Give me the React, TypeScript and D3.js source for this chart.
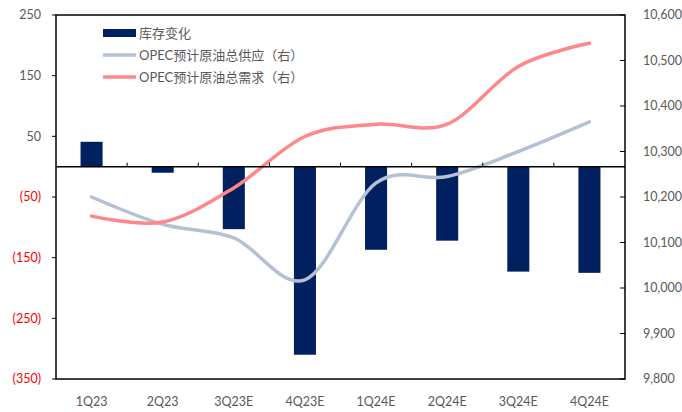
import React from "react";
import * as d3 from "d3";

const categories = ["1Q23", "2Q23", "3Q23E", "4Q23E", "1Q24E", "2Q24E", "3Q24E", "4Q24E"];
const inventoryChange = [41, -10, -103, -310, -137, -122, -173, -175];
const opecSupply = [10200, 10140, 10110, 10018, 10231, 10245, 10300, 10365];
const opecDemand = [10158, 10145, 10220, 10333, 10360, 10360, 10487, 10538];
const leftTicks = [250, 150, 50, -50, -150, -250, -350];
const rightTicks = [10600, 10500, 10400, 10300, 10200, 10100, 10000, 9900, 9800];
const legendLabels = ["库存变化", "OPEC预计原油总供应（右）", "OPEC预计原油总需求（右）"];

const W = 682, H = 412;
const L = 56, R = 625, T = 15, B = 379;
const BAR = "#002060", SUP = "#B4C0D3", DEM = "#FF8689";
const FONT = "Lato, 'Noto Sans CJK SC', sans-serif";

export default function App() {
  const x = d3.scaleBand<string>().domain(categories).range([L, R]).padding(0);
  const yL = d3.scaleLinear().domain([-350, 250]).range([B, T]);
  const yR = d3.scaleLinear().domain([9800, 10600]).range([B, T]);
  const bw = x.bandwidth() * 0.31;
  const cx = (c: string) => (x(c) as number) + x.bandwidth() / 2;
  const line = (vals: number[]) =>
    d3.line<number>().x((_, i) => cx(categories[i])).y((v) => yR(v)).curve(d3.curveCardinal.tension(0))(vals) as string;
  const fmt = (v: number) => (v < 0 ? `(${Math.abs(v)})` : `${v}`);
  const fmtR = d3.format(",");
  const y0 = yL(0);
  return (
    <svg width={W} height={H} style={{ position: "absolute", left: 0, top: 0, background: "#fff" }} fontFamily={FONT}>
      {inventoryChange.map((v, i) => (
        <rect key={i} x={cx(categories[i]) - bw / 2} y={Math.min(yL(v), y0)} width={bw} height={Math.abs(yL(v) - y0)} fill={BAR} />
      ))}
      <path d={line(opecSupply)} fill="none" stroke={SUP} strokeWidth={3.5} strokeLinecap="round" />
      <path d={line(opecDemand)} fill="none" stroke={DEM} strokeWidth={3.5} strokeLinecap="round" />
      <rect x={L} y={T} width={R - L} height={B - T} fill="none" stroke="#000" strokeWidth={1.5} />
      <line x1={L} x2={R} y1={y0} y2={y0} stroke="#000" strokeWidth={1.5} />
      {categories.slice(1).map((c) => (
        <line key={c} x1={x(c) as number} x2={x(c) as number} y1={y0} y2={y0 - 4} stroke="#000" strokeWidth={1} />
      ))}
      {leftTicks.map((t) => (
        <g key={t}>
          <line x1={L - 4} x2={L} y1={yL(t)} y2={yL(t)} stroke="#000" strokeWidth={1} />
          <text x={41} y={yL(t)} dy="0.35em" textAnchor="end" fontSize={12.5} fill={t < 0 ? "#FF0000" : "#595959"}>{fmt(t)}</text>
        </g>
      ))}
      {rightTicks.map((t) => (
        <g key={t}>
          <line x1={R - 5} x2={R} y1={yR(t)} y2={yR(t)} stroke="#000" strokeWidth={1} />
          <text x={643} y={yR(t)} dy="0.35em" textAnchor="start" fontSize={12.5} fill="#595959">{fmtR(t)}</text>
        </g>
      ))}
      {categories.map((c) => (
        <text key={c} x={cx(c)} y={402} dy="0.35em" textAnchor="middle" fontSize={12.5} fill="#595959">{c}</text>
      ))}
      {legendLabels.map((lab, i) => {
        const ly = 33 + i * 22;
        return (
          <g key={lab}>
            {i === 0 ? (
              <rect x={103} y={ly - 4} width={33} height={8} fill={BAR} />
            ) : (
              <line x1={103} x2={136} y1={ly} y2={ly} stroke={i === 1 ? SUP : DEM} strokeWidth={3.5} />
            )}
            <text x={139} y={ly} dy="0.35em" fontSize={13} fill="#595959">{lab}</text>
          </g>
        );
      })}
    </svg>
  );
}
